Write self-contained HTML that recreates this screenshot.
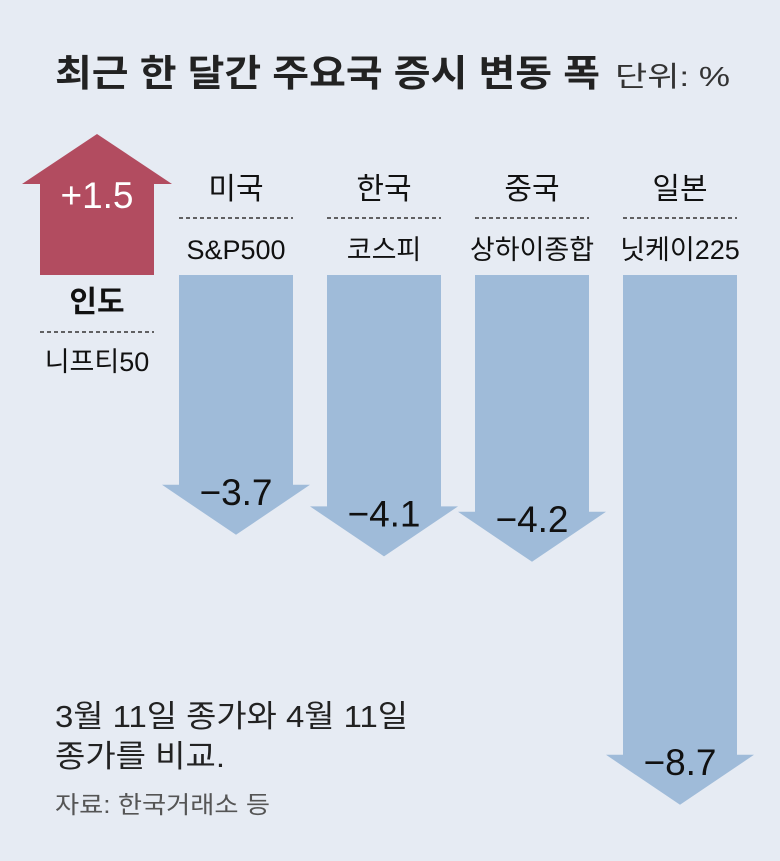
<!DOCTYPE html>
<html><head><meta charset="utf-8"><style>
body{margin:0;background:#e6ebf3;}
svg{display:block;}
text{font-family:"Liberation Sans","Noto Sans CJK KR",sans-serif;}
</style></head><body>
<svg id="c" width="780" height="861" viewBox="0 0 780 861">
<rect width="780" height="861" fill="#e6ebf3"/>
<text x="55" y="86" font-size="37" font-weight="bold" fill="#222" textLength="545" lengthAdjust="spacingAndGlyphs">최근 한 달간 주요국 증시 변동 폭</text>
<text x="615" y="86" font-size="28" fill="#333" textLength="115" lengthAdjust="spacingAndGlyphs">단위: %</text>
<text x="55" y="727" font-size="31" fill="#222" textLength="353" lengthAdjust="spacingAndGlyphs">3월 11일 종가와 4월 11일</text>
<text x="55" y="767" font-size="31" fill="#222" textLength="170" lengthAdjust="spacingAndGlyphs">종가를 비교.</text>
<text x="55" y="813" font-size="24" fill="#555" textLength="215" lengthAdjust="spacingAndGlyphs">자료: 한국거래소 등</text>
</svg>
<script>
const countries = ["인도","미국","한국","중국","일본"];
const indices = ["니프티50","S&P500","코스피","상하이종합","닛케이225"];
const values = [1.5,-3.7,-4.1,-4.2,-8.7];
const valueLabels = ["+1.5","−3.7","−4.1","−4.2","−8.7"];
const NS="http://www.w3.org/2000/svg";
const svg=document.getElementById('c');
const baseY=275, unit=54, off=10, head=50;
function yLen(v){return Math.abs(v)*unit+off;}
function mk(tag,attrs,txt){const e=document.createElementNS(NS,tag);for(const k in attrs)e.setAttribute(k,attrs[k]);if(txt!==undefined)e.textContent=txt;svg.appendChild(e);return e;}
const centers=[97,236,384,532,680];
values.forEach((v,i)=>{
  const cx=centers[i], hw=57, hh=74;
  let pts, labY;
  if(v>=0){
    const top=baseY-yLen(v);
    pts=[[cx-hw,baseY],[cx+hw,baseY],[cx+hw,top],[cx+hh+1,top],[cx,top-head],[cx-hh-1,top],[cx-hw,top]];
    labY=top+24;
  } else {
    const bot=baseY+yLen(v);
    pts=[[cx-hw,baseY],[cx+hw,baseY],[cx+hw,bot],[cx+hh,bot],[cx,bot+head],[cx-hh,bot],[cx-hw,bot]];
    labY=bot+20;
  }
  const p=mk('polygon',{points:pts.map(q=>q.join(',')).join(' '),fill:v>=0?'#b24c60':'#9fbbd9'});
  
  
  const t=mk('text',{x:cx,y:labY,'font-size':37,'text-anchor':'middle',fill:v>=0?'#fff':'#111'},valueLabels[i]);
  
  
  let cy, iy, ly;
  if(v>=0){cy=312;ly=332;iy=371;} else {cy=199;ly=218;iy=259;}
  const c=mk('text',{x:cx,y:cy,'font-size':30,'text-anchor':'middle',fill:'#111','font-weight':v>=0?'bold':'normal'},countries[i]);
  
  
  const l=mk('line',{x1:cx-hw,x2:cx+hw,y1:ly,y2:ly,stroke:'#333','stroke-width':1.5,'stroke-dasharray':'4,3'});
  
  
  const ix=mk('text',{x:cx,y:iy,'font-size':27,'text-anchor':'middle',fill:'#111'},indices[i]);
  
  
});
</script>
</body></html>
